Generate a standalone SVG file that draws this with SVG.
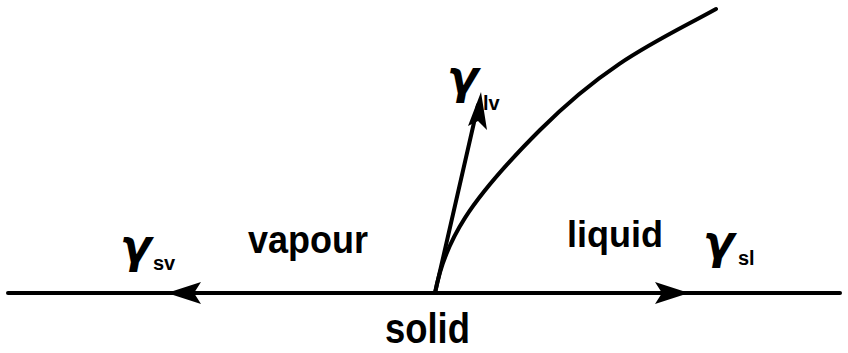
<svg xmlns="http://www.w3.org/2000/svg" width="848" height="353" viewBox="0 0 848 353">
<defs>
<style>
.ln{stroke:#000;stroke-width:4;fill:none;stroke-linecap:round}
.hd{fill:#000;stroke:none}
.t{font-family:"Liberation Sans",Arial,sans-serif;font-weight:bold;fill:#000}
.g{font-family:"DejaVu Sans","Liberation Sans",sans-serif;font-style:italic;font-weight:bold;font-size:46px;fill:#000}
.s{font-family:"Liberation Sans",Arial,sans-serif;font-weight:bold;font-size:20px;fill:#000}
</style>
</defs>
<g id="connectors">
<line class="ln" x1="8" y1="293" x2="840" y2="293"/>
<path class="hd" d="M167,293 L201,282 L194,293 L201,304 Z"/>
<path class="hd" d="M689,293 L655,282 L662,293 L655,304 Z"/>
<path class="ln" d="M435,293 L478,105"/>
<path class="hd" d="M481,92 L487,130 L478,121 L468,126 Z"/>
<path class="ln" d="M435,293 C445,240 470,200 540,130 S660,40 716,9"/>
</g>
<g id="gamma-sv"><text class="g" x="120" y="262">γ</text><text class="s" x="153" y="270">sv</text></g>
<g id="vapour"><text class="t" x="248" y="253" font-size="38" textLength="120" lengthAdjust="spacingAndGlyphs">vapour</text></g>
<g id="liquid"><text class="t" x="567" y="247" font-size="36" textLength="96" lengthAdjust="spacingAndGlyphs">liquid</text></g>
<g id="gamma-sl"><text class="g" x="703" y="258">γ</text><text class="s" x="738" y="265">sl</text></g>
<g id="gamma-lv"><text class="g" x="447" y="93">γ</text><text class="s" x="483" y="110">lv</text></g>
<g id="solid"><text class="t" x="385" y="343" font-size="42" textLength="85" lengthAdjust="spacingAndGlyphs">solid</text></g>
</svg>
